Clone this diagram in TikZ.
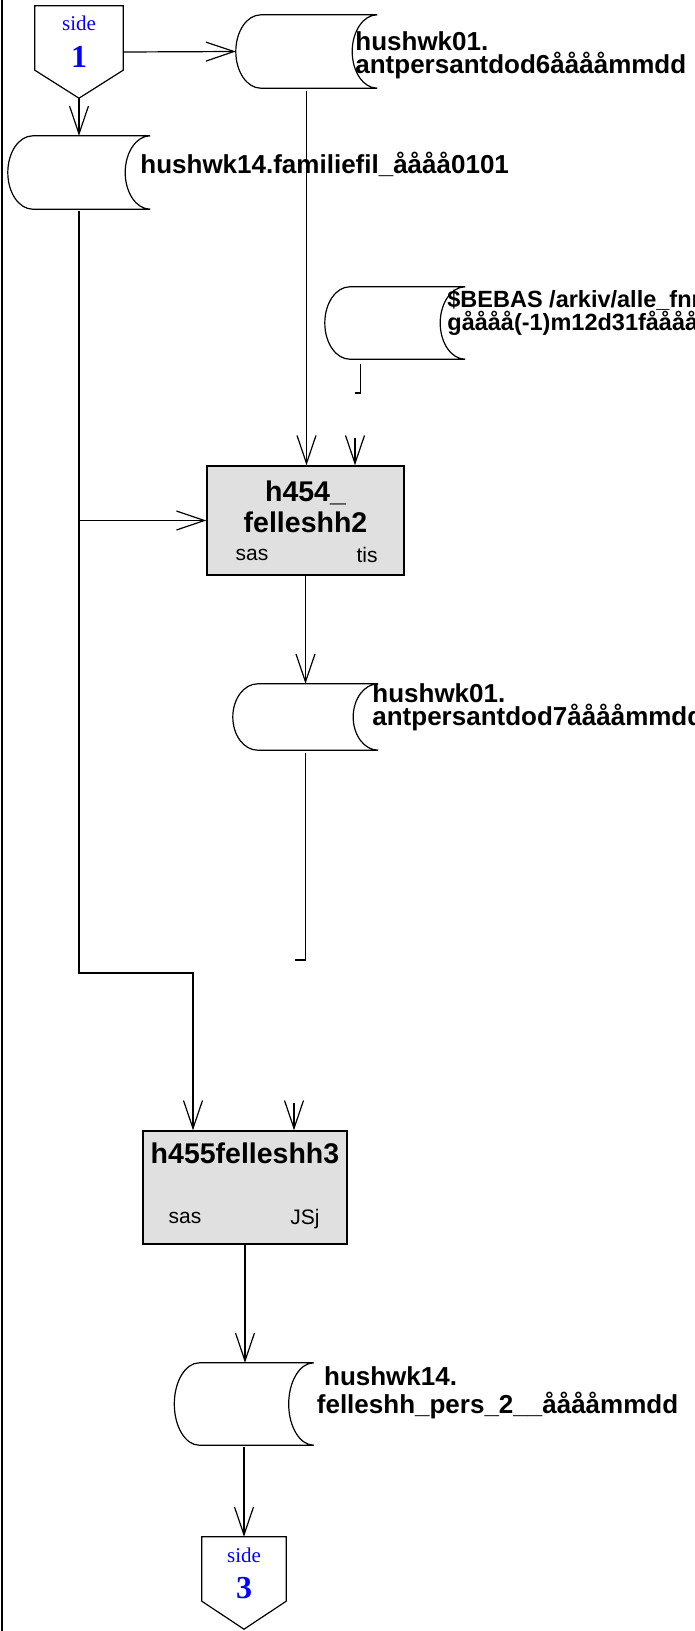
\documentclass[tikz,border=0pt]{standalone}
\usepackage{fontspec}
\setmainfont{Liberation Sans}
\newfontfamily\sideserif{Liberation Serif}
\usetikzlibrary{arrows.meta,calc}
\definecolor{ProgGray}{HTML}{E0E0E0}
\definecolor{SideBlue}{HTML}{0000FF}
\tikzset{
    outline/.style={draw, line width=1.2pt},
    link/.style={draw, line width=1.2pt},
    flow/.style={draw, line width=1.2pt,
                -{Straight Barb[length=28pt, width=19pt]}},
    store/.style 2 args={rectangle, minimum width=#1pt,
                minimum height=#2pt, inner sep=0},
    prog/.style 2 args={rectangle, draw, fill=ProgGray, line width=1.4pt,
                minimum width=#1pt, minimum height=#2pt, inner sep=0},
    sidepage/.style={rectangle, minimum width=#1pt,
                minimum height=92pt, inner sep=0},
    storetext/.style={anchor=west, align=left, inner sep=0,
                font=\bfseries\fontsize{26}{23.2}\selectfont},
    progtitle/.style={align=center, inner sep=0,
                font=\bfseries\fontsize{28.5}{31}\selectfont},
    proglabel/.style={inner sep=0, font=\fontsize{21}{24}\selectfont},
    sidetop/.style={inner sep=0, text=SideBlue,
                font=\sideserif\fontsize{21}{24}\selectfont},
    sidenum/.style={inner sep=0, text=SideBlue,
                font=\sideserif\bfseries\fontsize{32}{36}\selectfont},
}
\newcommand{\storeShape}[1]{%
    \draw[outline] let \p1 = (#1.north east), \p2 = (#1.south east),
        \n1 = {(\y1-\y2)/2} in
        ([xshift=25pt]#1.north west) -- (#1.north east)
        arc[start angle=90, end angle=270, x radius=25pt, y radius=\n1]
        -- ([xshift=25pt]#1.south west)
        arc[start angle=270, end angle=90, x radius=25pt, y radius=\n1];
}
\newcommand{\storeLabel}[5][]{%
    \node[storetext,#1] (#2-t) at ($(#2.east)+(#3,#4)$) {#5};
}
\newcommand{\sidePage}[2]{%
    \draw[outline] (#1.north west) -- (#1.north east)
        -- ([yshift=28pt]#1.south east) -- (#1.south)
        -- ([yshift=28pt]#1.south west) -- cycle;
    \node[sidetop] (#1-s) at ([yshift=-18pt]#1.north) {side};
    \node[sidenum] (#1-n) at ([yshift=-51pt]#1.north) {#2};
}
\newcommand{\progLabels}[4]{%
    \node[proglabel] (#1-l) at ($(#1.center)+(#2)$) {sas};
    \node[proglabel] (#1-r) at ($(#1.center)+(#3)$) {#4};
}

\begin{document}
\begin{tikzpicture}[x=1pt, y=1pt]
        \useasboundingbox (0,0) rectangle (694,-1631);
        \draw[line width=1.5pt] (2,0) -- (2,-1631);
        %
        % Top: side 1 and first datasets
        \node[sidepage=88] (S1) at (79,-52) {};
        \sidePage{S1}{1}
        \node[store={141}{73}] (D1) at (306.5,-51.5) {};
        \storeShape{D1}
        \storeLabel{D1}{-22}{-3.5}{hushwk01.\\antpersantdod6ååååmmdd}
        \node[store={142}{73}] (D2) at (79,-172.5) {};
        \storeShape{D2}
        \storeLabel{D2}{-10}{8.5}{hushwk14.familiefil\_åååå0101}
        \node[store={140}{72}] (D3) at (395,-323) {};
        \storeShape{D3}
        \storeLabel[font=\bfseries\fontsize{23.5}{21}\selectfont]{D3}{-18}{10.5}{\$BEBAS /arkiv/alle\_fnr/\\gåååå(-1)m12d31fååååmmdd}
        %
        %
        % First program
        \node[prog={197}{109}] (P1) at (305.5,-520.5) {};
        \node[progtitle] (P1-t) at ($(P1.center)+(0,13.5)$) {h454\_\\felleshh2};
        \progLabels{P1}{-53.5,-34.5}{61.5,-34.5}{tis}
        \node[store={145}{66}] (D4) at (305.5,-717) {};
        \storeShape{D4}
        \storeLabel{D4}{-6}{9.5}{hushwk01.\\antpersantdod7ååååmmdd}
        %
        %
        % Second program
        \node[prog={204}{113}] (P2) at (245,-1187.5) {};
        \node[progtitle] (P2-t) at ($(P2.center)+(0,34.5)$) {h455felleshh3};
        \progLabels{P2}{-60,-30.5}{60,-31.5}{JSj}
        \node[store={139}{82}] (D5) at (244,-1404) {};
        \storeShape{D5}
        \storeLabel{D5}{3}{11}{\ hushwk14.\\[5pt]felleshh\_pers\_2\_\_ååååmmdd}
        \node[sidepage=84] (S3) at (244,-1583) {};
        \sidePage{S3}{3}
        %
        %
        % Connectors
        \coordinate (J1) at (193,-973);
        \coordinate (D3end) at (355,-393);
        \coordinate (D3in) at (355,-438);
        \coordinate (D4end) at (295,-960);
        \coordinate (D4in) at (294,-1103);
        \draw[flow] (S1.east) -- (D1.west);
        \draw[flow] (S1.south) -- (D2.north);
        \draw[flow, shorten <=3pt] (D1.south) -- (D1.south |- P1.north);
        \draw[flow, shorten <=2pt] (D2.south) |- (J1) -- (J1 |- P2.north);
        \draw[flow] (D2.south |- P1.west) -- (P1.west);
        \draw[link] ([xshift=36pt, yshift=-5pt]D3.south west) |- (D3end);
        \draw[flow] (D3in) -- (D3in |- P1.north);
        \draw[flow] (P1.south) -- (P1.south |- D4.north);
        \draw[link, shorten <=3pt] (D4.south) |- (D4end);
        \draw[flow] (D4in) -- (D4in |- P2.north);
        \draw[flow] (P2.south) -- (P2.south |- D5.north);
        \draw[flow, shorten <=2pt] (D5.south) -- (D5.south |- S3.north);
\end{tikzpicture}
\end{document}
